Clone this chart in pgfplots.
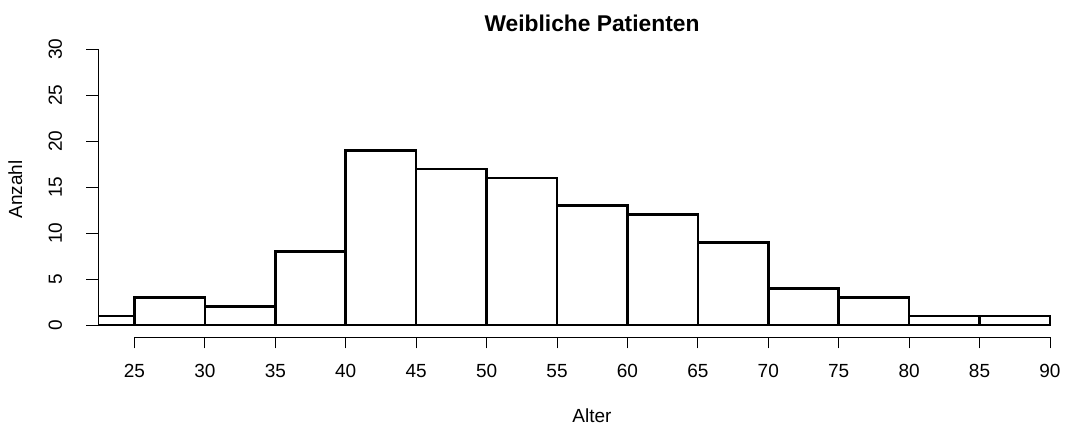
\documentclass[border=0pt]{standalone}
\usepackage{fontspec}
\setmainfont{Liberation Sans}
\usepackage{pgfplots}
\pgfplotsset{compat=1.18}

\begin{document}
\begin{tikzpicture}[x=1pt,y=1pt]
\useasboundingbox (0,0) rectangle (1067,430);

\begin{axis}[
  scale only axis,
  width=959pt, height=296.9pt,
  at={(98pt,93pt)}, anchor=south west,
  xmin=22.41, xmax=90.5,
  ymin=-1.3, ymax=31,
  clip mode=individual,
  axis x line*=bottom, axis y line*=left,
  axis line style={draw=none},
  tick align=outside,
  major tick length=11.5pt,
  tick style={black, line width=0.9pt},
  xtick={25,30,...,90},
  ytick={0,5,...,30},
  ticklabel style={font=\fontsize{19}{22}\selectfont},
  /pgf/number format/assume math mode=true,
  xticklabel style={anchor=base, yshift=-29pt},
  yticklabel style={rotate=90, anchor=base, yshift=24.5pt},
]
\addplot[ybar interval, fill=white, draw=black, line width=2.5pt]
  coordinates {(20,1) (25,3) (30,2) (35,8) (40,19) (45,17) (50,16) (55,13)
               (60,12) (65,9) (70,4) (75,3) (80,1) (85,1) (90,1)};
\draw[line width=0.9pt] (axis cs:22.41,0) -- (axis cs:22.41,30);
\draw[line width=0.9pt] (axis cs:25,-1.3) -- (axis cs:90,-1.3);
\end{axis}

\node[anchor=base, font=\fontsize{22.8}{26}\selectfont\bfseries] at (592,398.3) {Weibliche Patienten};
\node[anchor=base, font=\fontsize{19}{22}\selectfont] at (592,7) {Alter};
\node[anchor=base, rotate=90, font=\fontsize{19}{22}\selectfont] at (22,240.5) {Anzahl};
\end{tikzpicture}
\end{document}
